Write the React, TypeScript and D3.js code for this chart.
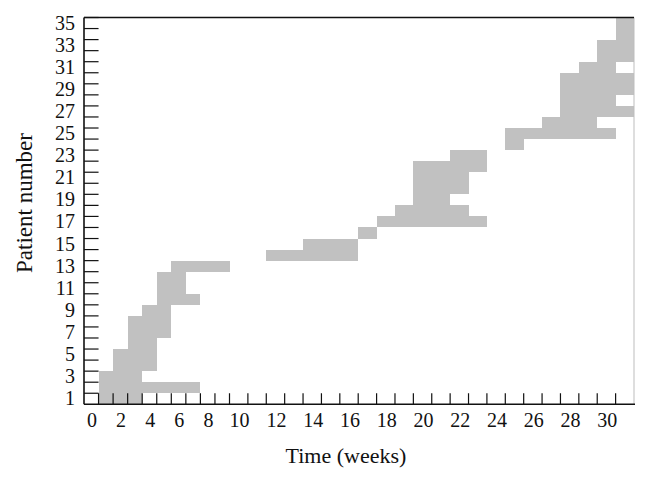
import React from "react";
import * as d3 from "d3";

// Patient rows (1..35) with treatment start / end week
const patientIds = [
  1, 2, 3, 4, 5, 6, 7, 8, 9, 10, 11, 12, 13, 14, 15, 16, 17, 18, 19, 20, 21, 22,
  23, 24, 25, 26, 27, 28, 29, 30, 31, 32, 33, 34, 35,
];
const startWeeks = [
  0, 0, 0, 1, 1, 2, 2, 2, 3, 4, 4, 4, 5, 11, 13, 16, 17, 18, 19, 19, 19, 19, 21,
  24, 24, 26, 27, 27, 27, 27, 28, 29, 29, 30, 30,
];
const endWeeks = [
  3, 7, 3, 4, 4, 4, 5, 5, 5, 7, 6, 6, 9, 16, 16, 17, 23, 22, 21, 22, 22, 23, 23,
  25, 30, 29, 31, 30, 31, 31, 30, 31, 31, 31, 31,
];
const xTickLabels = [0, 2, 4, 6, 8, 10, 12, 14, 16, 18, 20, 22, 24, 26, 28, 30];
const weekTicks = [
  0, 1, 2, 3, 4, 5, 6, 7, 8, 9, 10, 11, 12, 13, 14, 15, 16, 17, 18, 19, 20, 21,
  22, 23, 24, 25, 26, 27, 28, 29, 30,
];
const yTickLabels = [1, 3, 5, 7, 9, 11, 13, 15, 17, 19, 21, 23, 25, 27, 29, 31, 33, 35];

const W = 648;
const H = 478;
const FONT = "'Liberation Serif', 'Times New Roman', serif";

export default function App() {
  const x = d3.scaleLinear().domain([-1, 9, 31]).range([84, 229.5, 634]);
  const y = d3.scaleLinear().domain([0, 35]).range([404.3, 17.5]);
  const rx = (v: number) => Math.round(x(v));
  const ry = (v: number) => Math.round(y(v));
  const left = x(-1);
  const right = x(31);
  const bottom = y(0);
  const top = y(35);
  const rowH = y(0) - y(1);
  const colW = x(0) - x(-1);
  const labelShift = 0.45;

  return (
    <svg
      width={W}
      height={H}
      style={{ position: "absolute", left: 0, top: 0, background: "#fff" }}
      fontFamily={FONT}
    >
      <rect x={0} y={0} width={W} height={H} fill="#fff" />
      {/* bars */}
      <g fill="#c1c1c1" shapeRendering="crispEdges">
        {patientIds.map((p, i) => (
          <rect
            key={p}
            x={rx(startWeeks[i])}
            width={rx(endWeeks[i]) - rx(startWeeks[i])}
            y={ry(p)}
            height={ry(p - 1) - ry(p)}
          />
        ))}
      </g>
      {/* ticks (inward) */}
      <g stroke="#111" strokeWidth={1.2}>
        {weekTicks.map((t) => (
          <line key={t} x1={x(t)} x2={x(t)} y1={bottom} y2={bottom - rowH} />
        ))}
        {patientIds.map((p) => (
          <line key={p} x1={left} x2={left + colW} y1={y(p)} y2={y(p)} />
        ))}
      </g>
      {/* frame */}
      <line x1={right} x2={right} y1={top} y2={bottom} stroke="#bdbdbd" strokeWidth={1} />
      <line x1={left} x2={right} y1={top} y2={top} stroke="#111" strokeWidth={1.6} />
      <line x1={left} x2={left} y1={top} y2={bottom} stroke="#111" strokeWidth={1.6} />
      <line x1={left} x2={right + 1} y1={bottom} y2={bottom} stroke="#111" strokeWidth={1.6} />
      {/* x tick labels */}
      <g fontSize={20} textAnchor="middle" fill="#111">
        {xTickLabels.map((t) => (
          <text key={t} x={x(t - labelShift)} y={427}>
            {t}
          </text>
        ))}
      </g>
      {/* y tick labels */}
      <g fontSize={20} textAnchor="end" fill="#111">
        {yTickLabels.map((p) => (
          <text key={p} x={75} y={y(p - 0.5) + 6.5}>
            {p}
          </text>
        ))}
      </g>
      <text x={346} y={463} fontSize={22} textAnchor="middle" fill="#111">
        Time (weeks)
      </text>
      <text
        transform={`translate(32, 203) rotate(-90)`}
        fontSize={23}
        textAnchor="middle"
        fill="#111"
      >
        Patient number
      </text>
    </svg>
  );
}
